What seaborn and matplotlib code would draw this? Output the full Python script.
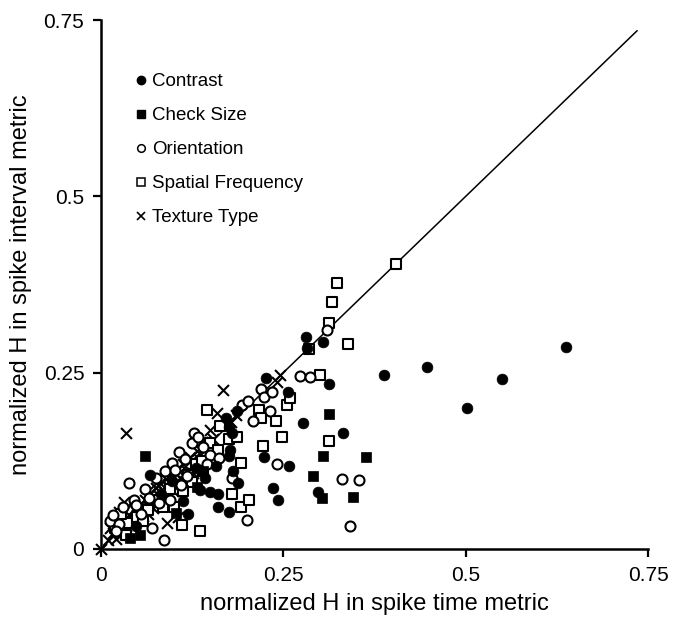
import matplotlib
matplotlib.use("Agg")
import matplotlib.pyplot as plt
from matplotlib.lines import Line2D
import seaborn as sns

# values (normalized H: spike time metric vs spike interval metric)
contrast_x = [0.048, 0.067, 0.082, 0.098, 0.112, 0.120, 0.130, 0.136, 0.142, 0.150,
              0.161, 0.161, 0.176, 0.171, 0.186, 0.176, 0.179, 0.177, 0.176, 0.181,
              0.188, 0.224, 0.236, 0.243, 0.226, 0.256, 0.258, 0.277, 0.281, 0.282,
              0.304, 0.312, 0.332, 0.298, 0.388, 0.447, 0.502, 0.550, 0.637, 0.158]
contrast_y = [0.032, 0.105, 0.078, 0.096, 0.068, 0.050, 0.115, 0.084, 0.100, 0.081,
              0.078, 0.059, 0.053, 0.185, 0.195, 0.173, 0.164, 0.140, 0.132, 0.110,
              0.093, 0.130, 0.086, 0.070, 0.242, 0.223, 0.118, 0.178, 0.301, 0.285,
              0.294, 0.234, 0.165, 0.081, 0.247, 0.258, 0.200, 0.241, 0.287, 0.118]

checksize_x = [0.040, 0.053, 0.060, 0.103, 0.131, 0.140, 0.290, 0.303, 0.305, 0.312, 0.345, 0.364]
checksize_y = [0.015, 0.020, 0.132, 0.051, 0.088, 0.110, 0.103, 0.072, 0.132, 0.192, 0.074, 0.131]

orient_x = [0.012, 0.017, 0.025, 0.030, 0.039, 0.045, 0.055, 0.060, 0.070, 0.075,
            0.086, 0.088, 0.095, 0.097, 0.107, 0.110, 0.115, 0.125, 0.127, 0.133,
            0.150, 0.162, 0.179, 0.194, 0.200, 0.202, 0.209, 0.220, 0.223, 0.232,
            0.234, 0.242, 0.273, 0.287, 0.310, 0.330, 0.354, 0.341, 0.140, 0.080,
            0.020, 0.048, 0.066, 0.102, 0.118, 0.146]
orient_y = [0.040, 0.048, 0.035, 0.060, 0.094, 0.070, 0.050, 0.085, 0.030, 0.100,
            0.012, 0.110, 0.070, 0.122, 0.138, 0.090, 0.128, 0.150, 0.165, 0.158,
            0.133, 0.129, 0.100, 0.204, 0.041, 0.210, 0.182, 0.227, 0.216, 0.196,
            0.223, 0.121, 0.245, 0.244, 0.310, 0.099, 0.097, 0.033, 0.145, 0.065,
            0.025, 0.062, 0.072, 0.112, 0.104, 0.120]

spatial_x = [0.019, 0.019, 0.035, 0.036, 0.050, 0.065, 0.080, 0.095, 0.100, 0.111,
             0.120, 0.125, 0.130, 0.136, 0.138, 0.140, 0.145, 0.150, 0.160, 0.163,
             0.175, 0.179, 0.187, 0.192, 0.192, 0.203, 0.217, 0.219, 0.222, 0.240,
             0.248, 0.255, 0.259, 0.285, 0.300, 0.313, 0.313, 0.317, 0.323, 0.339,
             0.405, 0.028, 0.058, 0.085, 0.112]
spatial_y = [0.029, 0.044, 0.020, 0.036, 0.045, 0.055, 0.070, 0.085, 0.060, 0.034,
             0.105, 0.095, 0.120, 0.025, 0.125, 0.110, 0.197, 0.150, 0.140, 0.174,
             0.156, 0.078, 0.158, 0.122, 0.060, 0.069, 0.197, 0.185, 0.146, 0.182,
             0.158, 0.204, 0.214, 0.283, 0.247, 0.153, 0.321, 0.350, 0.377, 0.290,
             0.404, 0.050, 0.040, 0.060, 0.082]

texture_x = [0.000, 0.010, 0.016, 0.022, 0.026, 0.030, 0.034, 0.038, 0.042, 0.045,
             0.050, 0.053, 0.057, 0.061, 0.065, 0.067, 0.071, 0.075, 0.079, 0.081,
             0.086, 0.089, 0.093, 0.096, 0.101, 0.104, 0.109, 0.112, 0.118, 0.122,
             0.128, 0.132, 0.138, 0.143, 0.150, 0.154, 0.159, 0.167, 0.035, 0.246,
             0.241, 0.185, 0.178, 0.025, 0.032, 0.090, 0.105, 0.012, 0.044, 0.058,
             0.072, 0.084, 0.099, 0.114, 0.126, 0.136, 0.020, 0.064, 0.076]
texture_y = [0.000, 0.012, 0.022, 0.030, 0.020, 0.040, 0.032, 0.048, 0.040, 0.056,
             0.048, 0.063, 0.055, 0.070, 0.061, 0.079, 0.068, 0.086, 0.075, 0.093,
             0.081, 0.099, 0.088, 0.106, 0.093, 0.113, 0.101, 0.121, 0.110, 0.131,
             0.118, 0.139, 0.151, 0.140, 0.169, 0.156, 0.193, 0.226, 0.165, 0.247,
             0.237, 0.190, 0.180, 0.052, 0.066, 0.036, 0.045, 0.030, 0.034, 0.046,
             0.058, 0.072, 0.082, 0.096, 0.108, 0.126, 0.014, 0.050, 0.094]

labels = ["Contrast", "Check Size", "Orientation", "Spatial Frequency", "Texture Type"]
ticks = [0, 0.25, 0.5, 0.75]
tick_labels = ["0", "0.25", "0.5", "0.75"]
diag_end = 0.735

sns.set_style("ticks")
plt.rcParams["font.family"] = ["Liberation Sans", "DejaVu Sans"]
plt.rcParams["text.color"] = "black"
plt.rcParams["axes.labelcolor"] = "black"
plt.rcParams["xtick.color"] = "black"
plt.rcParams["ytick.color"] = "black"

fig = plt.figure(figsize=(6.73, 6.28), dpi=100)
ax = fig.add_axes([0.150, 0.126, 0.813, 0.842])

# unity line
ax.plot([0, diag_end], [0, diag_end], color="black", lw=1.1, zorder=1)

sns.scatterplot(x=texture_x, y=texture_y, marker="x", color="black", s=62,
                linewidth=1.5, ax=ax, zorder=2, clip_on=False)
sns.scatterplot(x=spatial_x, y=spatial_y, marker="s", color="white", edgecolor="black",
                s=44, linewidth=1.5, ax=ax, zorder=3, clip_on=False)
sns.scatterplot(x=orient_x, y=orient_y, marker="o", color="white", edgecolor="black",
                s=52, linewidth=1.5, ax=ax, zorder=3, clip_on=False)
sns.scatterplot(x=checksize_x, y=checksize_y, marker="s", color="black", edgecolor="black",
                s=48, linewidth=0.5, ax=ax, zorder=4, clip_on=False)
sns.scatterplot(x=contrast_x, y=contrast_y, marker="o", color="black", edgecolor="black",
                s=60, linewidth=0.5, ax=ax, zorder=4, clip_on=False)

ax.set_xlim(0, 0.75)
ax.set_ylim(0, 0.75)
ax.set_xticks(ticks)
ax.set_xticklabels(tick_labels)
ax.set_yticks(ticks)
ax.set_yticklabels(tick_labels)
ax.tick_params(axis="both", labelsize=15, width=1.6, length=6, color="black", pad=6)
for side in ["left", "bottom"]:
    ax.spines[side].set_linewidth(1.8)
    ax.spines[side].set_color("black")
sns.despine(ax=ax)

ax.set_xlabel("normalized H in spike time metric", fontsize=17, labelpad=6)
ax.set_ylabel("normalized H in spike interval metric", fontsize=17, labelpad=8)

# legend with small markers
handles = [
    Line2D([], [], ls="none", marker="o", ms=6, mfc="black", mec="black"),
    Line2D([], [], ls="none", marker="s", ms=6, mfc="black", mec="black"),
    Line2D([], [], ls="none", marker="o", ms=5.5, mfc="white", mec="black", mew=1.1),
    Line2D([], [], ls="none", marker="s", ms=5.5, mfc="white", mec="black", mew=1.1),
    Line2D([], [], ls="none", marker="x", ms=6, mec="black", mew=1.2),
]
ax.legend(handles, labels, loc="upper left", bbox_to_anchor=(0.045, 0.917),
          frameon=False, fontsize=13.5, handlelength=0.6, handletextpad=0.3,
          labelspacing=0.9, borderpad=0)

plt.savefig("out.png", dpi=100)
